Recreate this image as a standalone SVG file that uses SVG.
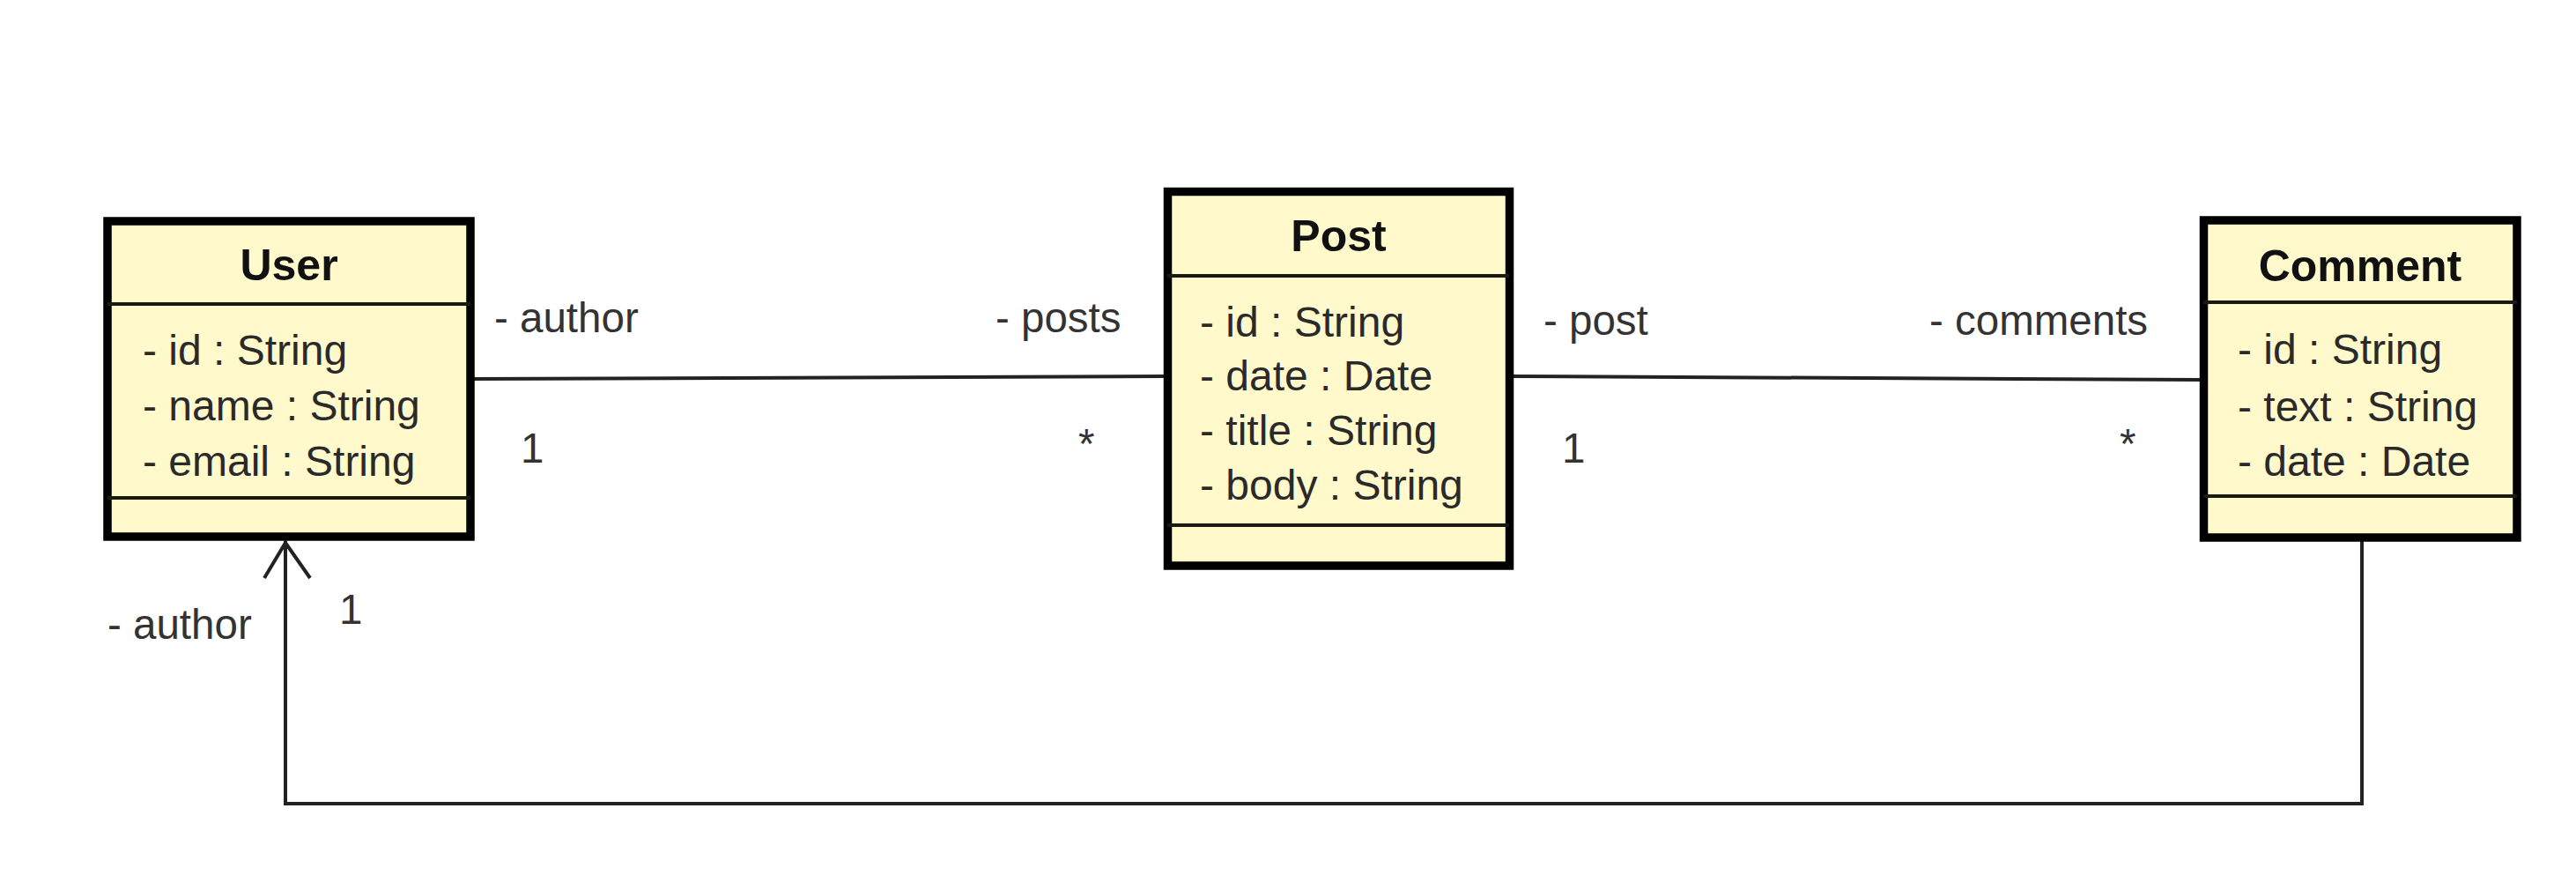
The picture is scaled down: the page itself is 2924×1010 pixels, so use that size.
<svg xmlns="http://www.w3.org/2000/svg" width="2924" height="1010" viewBox="0 0 2924 1010">
  <style>
    .box { fill: #FFF9CC; stroke: #000; stroke-width: 9.5; }
    .div { stroke: #1a1a10; stroke-width: 4; fill: none; }
    .title { font-family: "Liberation Sans", Arial, sans-serif; font-weight: bold; font-size: 50px; fill: #111; text-anchor: middle; }
    .attr { font-family: "Liberation Sans", Arial, sans-serif; font-size: 48px; fill: #2a2a2a; }
    .lbl { font-family: "Liberation Sans", Arial, sans-serif; font-size: 47.5px; fill: #333; }
    .conn { stroke: #222; stroke-width: 4; fill: none; }
  </style>
  <rect width="2924" height="1010" fill="#ffffff"/>

  <g id="connectors">
    <line class="conn" x1="534" y1="430" x2="1325" y2="427"/>
    <line class="conn" x1="1713" y1="427" x2="2501" y2="431"/>
    <polyline class="conn" points="2681,614 2681,912 324,912 324,614"/>
    <polyline class="conn" points="300,656 324,616 352,656"/>
    <text class="lbl" x="561" y="377">- author</text>
    <text class="lbl" x="1130" y="377">- posts</text>
    <text class="lbl" x="591" y="525">1</text>
    <text class="lbl" x="1224" y="520">*</text>
    <text class="lbl" x="1752" y="380">- post</text>
    <text class="lbl" x="2190" y="380">- comments</text>
    <text class="lbl" x="1773" y="525">1</text>
    <text class="lbl" x="2406" y="520">*</text>
    <text class="lbl" x="122" y="725">- author</text>
    <text class="lbl" x="385" y="708">1</text>
  </g>

  <g id="User">
    <rect class="box" x="122" y="251" width="412" height="358"/>
    <line class="div" x1="122" y1="345" x2="534" y2="345"/>
    <line class="div" x1="122" y1="565" x2="534" y2="565"/>
    <text class="title" x="328" y="318">User</text>
    <text class="attr" x="162" y="414">- id : String</text>
    <text class="attr" x="162" y="477">- name : String</text>
    <text class="attr" x="162" y="540">- email : String</text>
  </g>

  <g id="Post">
    <rect class="box" x="1325.5" y="217.5" width="388" height="424.5"/>
    <line class="div" x1="1325" y1="313" x2="1713" y2="313"/>
    <line class="div" x1="1325" y1="596" x2="1713" y2="596"/>
    <text class="title" x="1519.5" y="285">Post</text>
    <text class="attr" x="1362" y="382">- id : String</text>
    <text class="attr" x="1362" y="443">- date : Date</text>
    <text class="attr" x="1362" y="505">- title : String</text>
    <text class="attr" x="1362" y="567">- body : String</text>
  </g>

  <g id="Comment">
    <rect class="box" x="2501.5" y="250" width="355.5" height="360"/>
    <line class="div" x1="2501" y1="343" x2="2857" y2="343"/>
    <line class="div" x1="2501" y1="563" x2="2857" y2="563"/>
    <text class="title" x="2679" y="319">Comment</text>
    <text class="attr" x="2540" y="413">- id : String</text>
    <text class="attr" x="2540" y="478">- text : String</text>
    <text class="attr" x="2540" y="540">- date : Date</text>
  </g>
</svg>
